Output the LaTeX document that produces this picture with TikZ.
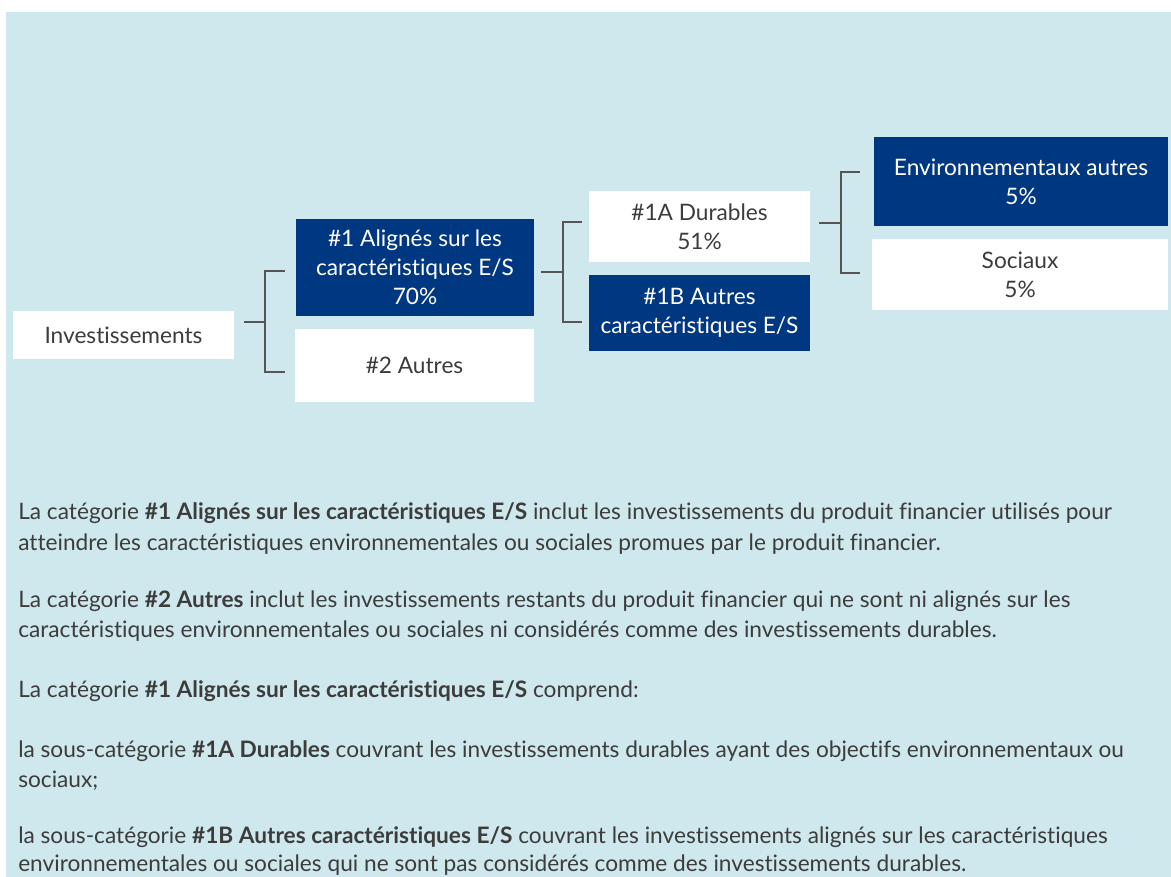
\documentclass[tikz,border=0pt]{standalone}
\usepackage{fontspec}
\setmainfont{Lato}[Ligatures=NoCommon]
\usepackage{tikz}
\usetikzlibrary{positioning,calc}
\definecolor{azblue}{HTML}{003781}
\definecolor{bgblue}{HTML}{CFE8ED}
\definecolor{txtgray}{HTML}{3C3C3C}
\definecolor{brkgray}{HTML}{555555}
\tikzset{
  box/.style 2 args={inner sep=0pt,align=center,font=\fontsize{17}{21.75}\selectfont,
    minimum width=#1*0.75pt,minimum height=#2*0.75pt},
  dbox/.style 2 args={box={#1}{#2},fill=azblue,text=white},
  wbox/.style 2 args={box={#1}{#2},fill=white,text=txtgray},
  brk/.style={line width=0.9pt,brkgray},
  txtline/.style={anchor=base west,inner sep=0pt,text=txtgray,font=\fontsize{17}{23}\selectfont},
}

\begin{document}
\begin{tikzpicture}[x=0.75pt,y=-0.75pt]
  \useasboundingbox (0,0) rectangle (1171,877);
  \fill[bgblue] (6,12) rectangle (1171,877);
  % boxes
  \node[wbox={221}{48}] (inv) at (123.5,335) {Investissements};
  \node[dbox={238}{97}] (al) at (415,267.5) {\#1 Alignés sur les\\caractéristiques E/S\\70\%};
  \node[wbox={239}{73}] (au) at (414.5,365.5) {\#2 Autres};
  \node[wbox={221}{71}] (dur) at (699.5,226.5) {\#1A Durables\\51\%};
  \node[dbox={221}{76}] (aut) at (699.5,313) {\#1B Autres\\caractéristiques E/S};
  \node[dbox={294}{89}] (env) at (1021,181.5) {Environnementaux autres\\5\%};
  \node[wbox={296}{71}] (soc) at (1020,274.5) {Sociaux\\5\%};
  % brackets
  \coordinate (b1) at (265,322);
  \coordinate (b2) at (563,272);
  \coordinate (b3) at (841,223);
  \draw[brk] (inv.east |- b1) ++(10,0) -- (b1);
  \draw[brk] (al.west |- 0,271) ++(-11,0) -| (b1 |- 0,372) -- ++(20,0);
  \draw[brk] (al.east |- b2) ++(7,0) -- (b2);
  \draw[brk] (dur.west |- 0,222) ++(-7,0) -| (b2 |- 0,322) -- ++(19,0);
  \draw[brk] (dur.east |- b3) ++(9,0) -- (b3);
  \draw[brk] (env.west |- 0,172) ++(-14,0) -| (b3 |- 0,273) -- ++(19,0);
  % explanations
  \node[txtline] (l1) at (18,519) {La catégorie \textbf{\#1 Alignés sur les caractéristiques E/S} inclut les investissements du produit financier utilisés pour};
  \node[txtline] (l2) at (18,550) {atteindre les caractéristiques environnementales ou sociales promues par le produit financier.};
  \node[txtline] (l3) at (18,607) {La catégorie \textbf{\#2 Autres} inclut les investissements restants du produit financier qui ne sont ni alignés sur les};
  \node[txtline] (l4) at (18,637) {caractéristiques environnementales ou sociales ni considérés comme des investissements durables.};
  \node[txtline] (l5) at (18,697) {La catégorie \textbf{\#1 Alignés sur les caractéristiques E/S} comprend:};
  \node[txtline] (l6) at (18,757) {la sous-catégorie \textbf{\#1A Durables} couvrant les investissements durables ayant des objectifs environnementaux ou};
  \node[txtline] (l7) at (18,787) {sociaux;};
  \node[txtline] (l8) at (18,843) {la sous-catégorie \textbf{\#1B Autres caractéristiques E/S} couvrant les investissements alignés sur les caractéristiques};
  \node[txtline] (l9) at (18,871) {environnementales ou sociales qui ne sont pas considérés comme des investissements durables.};
\end{tikzpicture}
\end{document}
